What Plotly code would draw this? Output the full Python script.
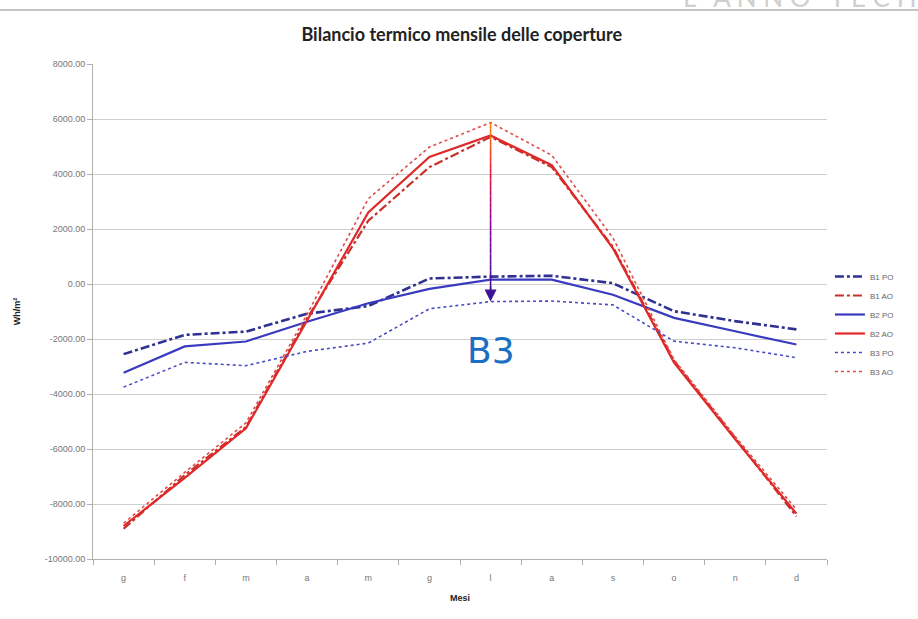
import plotly.graph_objects as go

# ---- data ----
month_labels = ["g", "f", "m", "a", "m", "g", "l", "a", "s", "o", "n", "d"]
month_idx = list(range(12))

b1_po = [-2550, -1850, -1730, -1080, -800, 200, 270, 300, 30, -990, -1350, -1650]
b1_ao = [-8900, -6950, -5200, -1250, 2300, 4250, 5350, 4250, 1350, -2800, -5600, -8450]
b2_po = [-3230, -2270, -2090, -1370, -700, -180, 160, 160, -390, -1230, -1720, -2200]
b2_ao = [-8800, -7050, -5250, -1340, 2600, 4620, 5400, 4320, 1300, -2860, -5650, -8350]
b3_po = [-3750, -2850, -2970, -2450, -2150, -900, -640, -620, -760, -2080, -2320, -2680]
b3_ao = [-8700, -6850, -5050, -1100, 3100, 4980, 5870, 4680, 1680, -2750, -5550, -8200]

y_ticks = [8000, 6000, 4000, 2000, 0, -2000, -4000, -6000, -8000, -10000]

series = [
    ("B1 PO", b1_po, "#2e3192", "dashdot", 2.6),
    ("B1 AO", b1_ao, "#c8302a", "dashdot", 2.2),
    ("B2 PO", b2_po, "#3a3abf", "solid", 2.2),
    ("B2 AO", b2_ao, "#e02828", "solid", 2.2),
    ("B3 PO", b3_po, "#4a4ac4", "dot", 1.6),
    ("B3 AO", b3_ao, "#e04a4a", "dot", 1.6),
]

fig = go.Figure()
for name, vals, col, dash, w in series:
    fig.add_trace(go.Scatter(
        x=month_idx, y=vals, name=name, mode="lines",
        line=dict(color=col, dash=dash, width=w),
    ))

# gradient arrow from B3 AO peak (luglio) down to B3 PO
ia = 6
y_top = b3_ao[ia]
y_bot = b3_po[ia]
stops = [(0.0, (255, 140, 0)), (0.3, (230, 20, 60)), (0.62, (130, 0, 160)), (1.0, (60, 20, 150))]

def interp(t):
    for (t0, c0), (t1, c1) in zip(stops[:-1], stops[1:]):
        if t0 <= t <= t1:
            f = (t - t0) / (t1 - t0)
            return "rgb(%d,%d,%d)" % tuple(round(a + (b - a) * f) for a, b in zip(c0, c1))
    return "rgb(60,20,150)"

nseg = 30
y_shaft_end = y_bot + 300
for k in range(nseg):
    t0 = k / nseg
    t1 = (k + 1) / nseg
    ya = y_top + (y_shaft_end - y_top) * t0
    yb = y_top + (y_shaft_end - y_top) * t1
    fig.add_shape(type="line", xref="x", yref="y", x0=ia, x1=ia, y0=ya, y1=yb,
                  line=dict(color=interp((t0 + t1) / 2), width=1.6), layer="above")

fig.add_annotation(x=ia, y=y_bot, ax=ia, ay=y_bot + 600, xref="x", yref="y",
                   axref="x", ayref="y", showarrow=True, arrowhead=2, arrowsize=1.6,
                   arrowwidth=1.5, arrowcolor="rgb(60,20,150)", text="", standoff=0)

fig.add_annotation(x=ia, y=-2400, xref="x", yref="y", text="B3", showarrow=False,
                   font=dict(family="DejaVu Sans", size=36, color="#1a6fc4"))

# page decorations
fig.add_shape(type="line", xref="paper", yref="paper", x0=-0.2, x1=1.2,
              y0=(559 - 10) / 495, y1=(559 - 10) / 495,
              line=dict(color="#c4c4c4", width=2))
fig.add_annotation(xref="paper", yref="paper", x=1.125, y=(559 - 15) / 495,
                   xanchor="right", yanchor="bottom", showarrow=False,
                   text="L ' A N N O   T E C H", font=dict(family="Lato", size=26, color="#cfcfcf"))

fig.update_layout(
    width=918, height=619,
    margin=dict(l=93, r=91, t=64, b=60),
    paper_bgcolor="white", plot_bgcolor="white",
    title=dict(text="<b>Bilancio termico mensile delle coperture</b>",
               x=0.503, xanchor="center", y=(619 - 35) / 619, yanchor="middle",
               font=dict(family="Lato", size=18, color="#222222")),
    showlegend=True,
    legend=dict(x=1.004, y=0.60, xanchor="left", yanchor="top",
                font=dict(family="Liberation Sans", size=8, color="#666666"),
                tracegroupgap=0, itemwidth=30, bgcolor="rgba(0,0,0,0)"),
    xaxis=dict(
        range=[-0.5, 11.5], tickmode="array", tickvals=month_idx, ticktext=month_labels,
        showgrid=False, zeroline=False, showline=True, linecolor="#b0b0b0", linewidth=1,
        ticks="", ticklabelstandoff=10, automargin=False,
        tickfont=dict(family="Liberation Sans", size=9, color="#777777"),
        minor=dict(ticks="outside", tick0=-0.5, dtick=1, ticklen=5, tickcolor="#b0b0b0", showgrid=False),
        title=dict(text="<b>Mesi</b>", font=dict(family="Liberation Sans", size=9, color="#222222"), standoff=12),
    ),
    yaxis=dict(
        range=[-10000, 8000], tickmode="array", tickvals=y_ticks,
        ticktext=["%.2f" % v for v in y_ticks], automargin=False,
        showgrid=True, gridcolor="#cfcfcf", gridwidth=1, zeroline=False,
        showline=True, linecolor="#b0b0b0", linewidth=1,
        ticks="outside", ticklen=5, tickcolor="#b0b0b0",
        tickfont=dict(family="Liberation Sans", size=9, color="#777777"),
        title=dict(text="<b>Wh/m²</b>", font=dict(family="Liberation Sans", size=9, color="#222222"), standoff=22),
    ),
)

fig.write_html("out.html", config={"displayModeBar": False},
               post_script="document.body.style.margin='0';document.body.style.overflow='hidden';")
